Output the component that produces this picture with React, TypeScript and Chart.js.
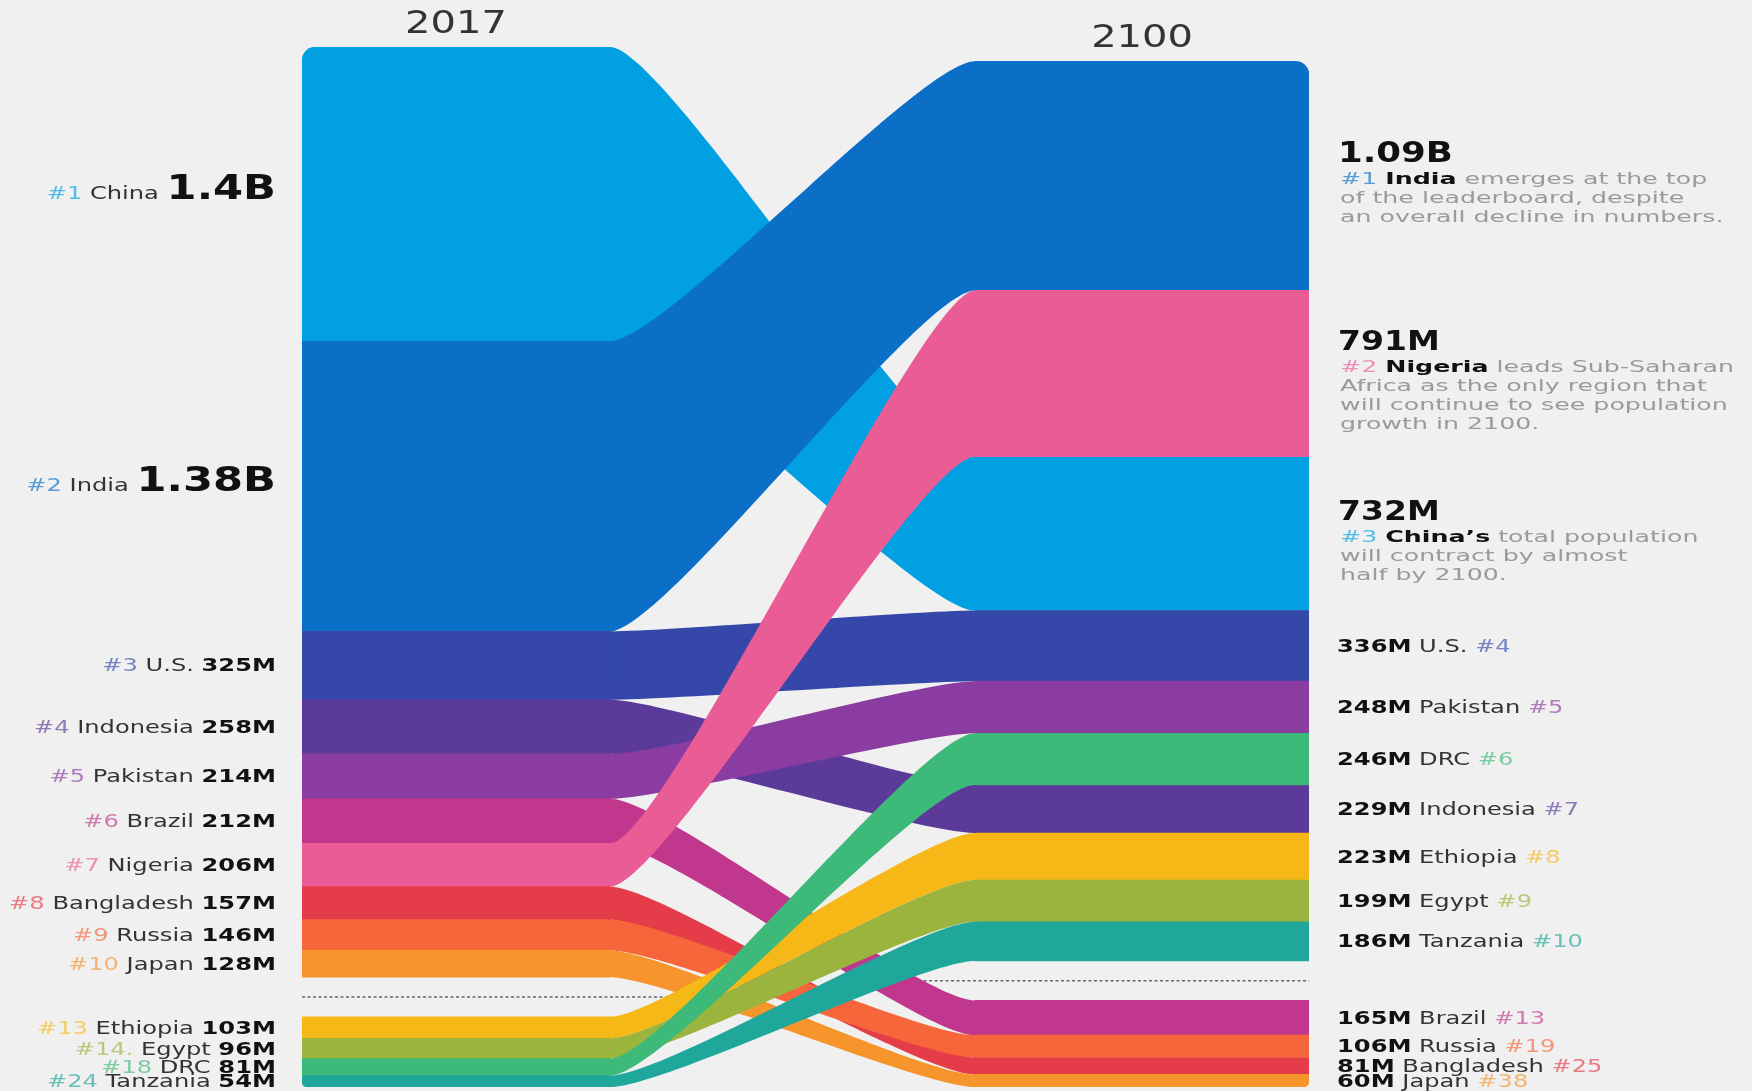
import React, { useEffect, useRef } from 'react';
import { Chart, registerables } from 'chart.js';
Chart.register(...registerables);

// ---------------- data ----------------
const YEARS = [2017, 2100];
const countries = ['China', 'India', 'U.S.', 'Indonesia', 'Pakistan', 'Brazil', 'Nigeria', 'Bangladesh', 'Russia', 'Japan', 'Ethiopia', 'Egypt', 'DRC', 'Tanzania'];
const pop2017 = [1400, 1380, 325, 258, 214, 212, 206, 157, 146, 128, 103, 96, 81, 54];
const pop2100 = [732, 1090, 336, 229, 248, 165, 791, 81, 106, 60, 223, 199, 246, 186];
const rank2017 = [1, 2, 3, 4, 5, 6, 7, 8, 9, 10, 13, 14, 18, 24];
const rank2100 = [3, 1, 4, 7, 5, 13, 2, 25, 19, 38, 8, 9, 6, 10];
const rankText2017 = ['#1', '#2', '#3', '#4', '#5', '#6', '#7', '#8', '#9', '#10', '#13', '#14.', '#18', '#24'];
const colors = ['#00A0E3', '#0B6FC8', '#3548A9', '#5C3A9A', '#8B3CA0', '#C0378D', '#E95C96', '#E43C48', '#F6663A', '#F5952C', '#F5B816', '#9BB43E', '#3DB97A', '#1FA79B'];
// painting order of the flows (first = underneath)
const drawOrder = ['China', 'India', 'U.S.', 'Indonesia', 'Pakistan', 'Brazil', 'Bangladesh', 'Russia', 'Japan', 'Ethiopia', 'Egypt', 'Tanzania', 'DRC', 'Nigeria'];
// annotations for the top three of 2100
const noteCountries = ['India', 'Nigeria', 'China'];
const noteNames = ['India', 'Nigeria', 'China\u2019s'];
const noteLines = [
  [' emerges at the top', 'of the leaderboard, despite', 'an overall decline in numbers.'],
  [' leads Sub-Saharan', 'Africa as the only region that', 'will continue to see population', 'growth in 2100.'],
  [' total population', 'will contract by almost', 'half by 2100.'],
];
const TOP_GROUP = 10; // ranks shown above the dotted separator
const GAP = 188; // gap (millions) between the top-10 block and the others

// ---------------- layout / style ----------------
const W = 1752;
const H = 1091;
const BG = '#f0f0f0';
const FONT = '"DejaVu Sans"';
const BAR_W = [308, 334];
const X_MIN = 1998.37;
const X_MAX = 2120.2;
const RADIUS = 14;
const CURVE_K = 0.15;

function stackSide(pop: number[], rank: number[]) {
  const idx = countries.map((_, i) => i).sort((a, b) => rank[a] - rank[b]);
  const top = idx.filter((i) => rank[i] <= TOP_GROUP);
  const bottom = idx.filter((i) => rank[i] > TOP_GROUP);
  const lo: number[] = [];
  const hi: number[] = [];
  let cur = 0;
  for (const i of [...bottom].reverse()) { lo[i] = cur; cur += pop[i]; hi[i] = cur; }
  cur += GAP;
  const gapMid = cur - GAP / 2;
  for (const i of [...top].reverse()) { lo[i] = cur; cur += pop[i]; hi[i] = cur; }
  return { lo, hi, order: idx, total: cur, gapMid };
}

const sides = [stackSide(pop2017, rank2017), stackSide(pop2100, rank2100)];

function fmt(v: number) {
  return v >= 1000 ? `${v / 1000}B` : `${v}M`;
}

function mix(hex: string, t: number) {
  const n = parseInt(hex.slice(1), 16);
  const r = (n >> 16) & 255, g = (n >> 8) & 255, b = n & 255;
  const m = (c: number) => Math.round(c * (1 - t) + 240 * t);
  return `rgb(${m(r)},${m(g)},${m(b)})`;
}

type Run = { text: string; font: string; color: string; sx: number };

function drawRuns(ctx: CanvasRenderingContext2D, runs: Run[], x: number, y: number, align: 'left' | 'right' | 'center') {
  let total = 0;
  const ws = runs.map((r) => {
    ctx.font = r.font;
    const w = ctx.measureText(r.text).width * r.sx;
    total += w;
    return w;
  });
  let cx = align === 'right' ? x - total : align === 'center' ? x - total / 2 : x;
  runs.forEach((r, k) => {
    ctx.save();
    ctx.font = r.font;
    ctx.fillStyle = r.color;
    ctx.textAlign = 'left';
    ctx.textBaseline = 'alphabetic';
    ctx.translate(cx, y);
    ctx.scale(r.sx, 1);
    ctx.fillText(r.text, 0, 0);
    ctx.restore();
    cx += ws[k];
  });
}

const SX_SMALL = 1.42;
const SX_DESC = 1.63;
const SX_BIG = 1.27;
const fSmall = (w: string) => `${w} 17px ${FONT}`;
const fDesc = (w: string) => `${w} 15.5px ${FONT}`;

const sankeyPlugin = {
  id: 'sankeyFlows',
  beforeDatasetsDraw(chart: any) {
    const ctx = chart.ctx as CanvasRenderingContext2D;
    const y = chart.scales.y;
    const L = chart.getDatasetMeta(0).data[0];
    const R = chart.getDatasetMeta(1).data[0];
    const xLl = L.x - L.width / 2, xLr = L.x + L.width / 2;
    const xRl = R.x - R.width / 2, xRr = R.x + R.width / 2;
    ctx.save();
    ctx.strokeStyle = '#666';
    ctx.lineWidth = 1.5;
    ctx.setLineDash([3, 2.5]);
    const yl = y.getPixelForValue(sides[0].gapMid);
    ctx.beginPath(); ctx.moveTo(xLl, yl); ctx.lineTo(xLr + 90, yl); ctx.stroke();
    const yr = y.getPixelForValue(sides[1].gapMid);
    ctx.beginPath(); ctx.moveTo(xRl - 90, yr); ctx.lineTo(xRr, yr); ctx.stroke();
    ctx.restore();
  },
  afterDatasetsDraw(chart: any) {
    const ctx = chart.ctx as CanvasRenderingContext2D;
    const y = chart.scales.y;
    const mL = chart.getDatasetMeta(0).data;
    const mR = chart.getDatasetMeta(1).data;
    ctx.save();
    for (const name of drawOrder) {
      const i = countries.indexOf(name);
      const xL = mL[i].x + mL[i].width / 2;
      const xR = mR[i].x - mR[i].width / 2;
      const dx = (xR - xL) * CURVE_K;
      const t0 = y.getPixelForValue(sides[0].hi[i]);
      const b0 = y.getPixelForValue(sides[0].lo[i]);
      const t1 = y.getPixelForValue(sides[1].hi[i]);
      const b1 = y.getPixelForValue(sides[1].lo[i]);
      ctx.beginPath();
      ctx.moveTo(xL - 1, t0);
      ctx.lineTo(xL, t0);
      ctx.bezierCurveTo(xL + dx, t0, xR - dx, t1, xR, t1);
      ctx.lineTo(xR + 1, t1);
      ctx.lineTo(xR + 1, b1);
      ctx.lineTo(xR, b1);
      ctx.bezierCurveTo(xR - dx, b1, xL + dx, b0, xL, b0);
      ctx.lineTo(xL - 1, b0);
      ctx.closePath();
      ctx.fillStyle = colors[i];
      ctx.fill();
    }
    ctx.restore();
  },
  afterDraw(chart: any) {
    const ctx = chart.ctx as CanvasRenderingContext2D;
    const y = chart.scales.y;
    const x = chart.scales.x;
    const mL = chart.getDatasetMeta(0).data;
    const mR = chart.getDatasetMeta(1).data;
    // year headers
    YEARS.forEach((yr, s) => {
      const top = y.getPixelForValue(sides[s].total);
      drawRuns(ctx, [{ text: String(yr), font: `normal 32px ${FONT}`, color: '#333', sx: 1.25 }], x.getPixelForValue(yr), top - 14, 'center');
    });
    // left labels
    const leftX = mL[0].x - mL[0].width / 2 - 26;
    countries.forEach((c, i) => {
      const cy = (y.getPixelForValue(sides[0].hi[i]) + y.getPixelForValue(sides[0].lo[i])) / 2;
      const big = rank2017[i] <= 2;
      const runs: Run[] = [
        { text: rankText2017[i], font: fSmall('normal'), color: mix(colors[i], 0.35), sx: SX_SMALL },
        { text: ' ' + c + ' ', font: fSmall('normal'), color: '#333', sx: SX_SMALL },
        big
          ? { text: fmt(pop2017[i]), font: `bold 34px ${FONT}`, color: '#111', sx: SX_BIG }
          : { text: fmt(pop2017[i]), font: fSmall('bold'), color: '#111', sx: SX_SMALL },
      ];
      drawRuns(ctx, runs, leftX, cy + (big ? 5 : 6), 'right');
    });
    // right labels
    const rightX = mR[0].x + mR[0].width / 2 + 28;
    countries.forEach((c, i) => {
      const cy = (y.getPixelForValue(sides[1].hi[i]) + y.getPixelForValue(sides[1].lo[i])) / 2;
      const ni = noteCountries.indexOf(c);
      if (ni >= 0) {
        const lines = noteLines[ni];
        const n = lines.length;
        const tb = cy + 16 - 10 * n;
        const size = rank2100[i] === 1 ? 28 : 26;
        drawRuns(ctx, [{ text: fmt(pop2100[i]), font: `bold ${size}px ${FONT}`, color: '#111', sx: SX_BIG }], rightX + 1, tb, 'left');
        lines.forEach((ln, k) => {
          const by = tb + 22 + k * 19;
          const runs: Run[] = k === 0
            ? [
                { text: '#' + rank2100[i] + ' ', font: fDesc('normal'), color: mix(colors[i], 0.35), sx: SX_DESC },
                { text: noteNames[ni], font: fDesc('bold'), color: '#111', sx: SX_DESC },
                { text: ln, font: fDesc('normal'), color: '#9a9a9a', sx: SX_DESC },
              ]
            : [{ text: ln, font: fDesc('normal'), color: '#9a9a9a', sx: SX_DESC }];
          drawRuns(ctx, runs, rightX + 3, by, 'left');
        });
      } else {
        const runs: Run[] = [
          { text: fmt(pop2100[i]), font: fSmall('bold'), color: '#111', sx: SX_SMALL },
          { text: ' ' + c + ' ', font: fSmall('normal'), color: '#333', sx: SX_SMALL },
          { text: '#' + rank2100[i], font: fSmall('normal'), color: mix(colors[i], 0.35), sx: SX_SMALL },
        ];
        drawRuns(ctx, runs, rightX, cy + 6, 'left');
      }
    });
  },
};

function cornerRadius(side: number) {
  return (c: any) => {
    const i = c.dataIndex;
    const order = sides[side].order;
    const first = order[0] === i;
    const last = order[order.length - 1] === i;
    const r = { topLeft: 0, topRight: 0, bottomLeft: 0, bottomRight: 0 };
    if (side === 0) {
      if (first) r.topLeft = RADIUS;
      if (last) r.bottomLeft = RADIUS;
    } else {
      if (first) r.topRight = RADIUS;
      if (last) r.bottomRight = RADIUS;
    }
    return r;
  };
}

export default function App() {
  const ref = useRef<HTMLCanvasElement>(null);
  useEffect(() => {
    const datasets = YEARS.map((yr, s) => ({
      label: String(yr),
      data: countries.map((_, i) => ({ x: yr, y: [sides[s].lo[i], sides[s].hi[i]] })),
      backgroundColor: colors,
      borderWidth: 0,
      borderSkipped: false as const,
      borderRadius: cornerRadius(s),
      barThickness: BAR_W[s],
      grouped: false,
    }));
    const chart = new Chart(ref.current as HTMLCanvasElement, {
      type: 'bar',
      data: { datasets: datasets as any },
      options: {
        responsive: false,
        maintainAspectRatio: false,
        animation: false,
        devicePixelRatio: 1,
        layout: { padding: { left: 302, right: W - 1309, top: 47, bottom: 4 } },
        plugins: { legend: { display: false }, tooltip: { enabled: false } },
        scales: {
          x: { type: 'linear', min: X_MIN, max: X_MAX, offset: false, display: false },
          y: { type: 'linear', min: 0, max: Math.max(sides[0].total, sides[1].total), display: false },
        },
      },
      plugins: [sankeyPlugin],
    });
    return () => chart.destroy();
  }, []);
  return (
    <div style={{ position: 'fixed', left: 0, top: 0, width: W, height: H, background: BG }}>
      <canvas ref={ref} width={W} height={H} style={{ display: 'block' }} />
    </div>
  );
}
